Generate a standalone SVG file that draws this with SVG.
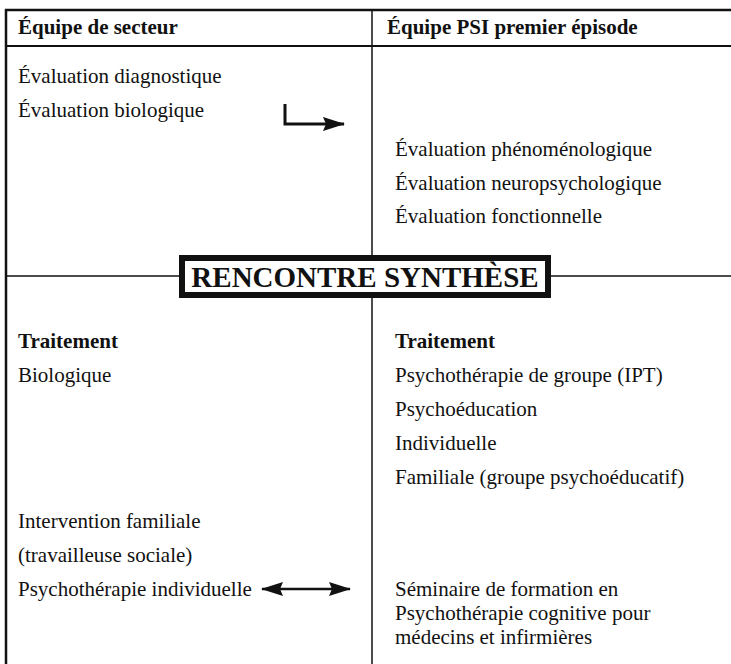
<svg xmlns="http://www.w3.org/2000/svg" width="731" height="664" viewBox="0 0 731 664">
<defs>
<style>
text{font-family:"Liberation Serif","Times New Roman",serif;font-size:21px;fill:#111}
.b{font-weight:bold}
.t{font-weight:bold;font-size:29px}
.ln{stroke:#111;fill:none}
</style>
<marker id="ah" viewBox="0 0 22 16" refX="21" refY="8" markerWidth="22" markerHeight="16" markerUnits="userSpaceOnUse" orient="auto-start-reverse"><path d="M0,1 L22,8 L0,15 L3,8 Z" fill="#111"/></marker>
</defs>
<rect width="731" height="664" fill="#fff"/>
<g id="grid">
<line class="ln" x1="5" y1="10" x2="731" y2="10" stroke-width="2.5"/>
<line class="ln" x1="5" y1="46" x2="731" y2="46" stroke-width="2"/>
<line class="ln" x1="6" y1="9" x2="6" y2="664" stroke-width="2.5"/>
<line class="ln" x1="372" y1="10" x2="372" y2="256" stroke-width="1.5"/>
<line class="ln" x1="372" y1="297" x2="372" y2="664" stroke-width="1.5"/>
<line class="ln" x1="5" y1="276" x2="180" y2="276" stroke-width="1.5"/>
<line class="ln" x1="550" y1="276" x2="731" y2="276" stroke-width="1.5"/>
</g>
<g id="headers">
<text class="b" x="18" y="34">Équipe de secteur</text>
<text class="b" x="387" y="34">Équipe PSI premier épisode</text>
</g>
<g id="eval-secteur">
<text x="18" y="83">Évaluation diagnostique</text>
<text x="18" y="117">Évaluation biologique</text>
</g>
<g id="eval-psi">
<text x="395" y="156">Évaluation phénoménologique</text>
<text x="395" y="190">Évaluation neuropsychologique</text>
<text x="395" y="223">Évaluation fonctionnelle</text>
</g>
<g id="synthese">
<rect x="182" y="258" width="366" height="37" fill="#fff" stroke="#111" stroke-width="6"/>
<text class="t" x="365" y="287" text-anchor="middle">RENCONTRE SYNTHÈSE</text>
</g>
<g id="traitement-secteur">
<text class="b" x="18" y="348">Traitement</text>
<text x="18" y="382">Biologique</text>
<text x="18" y="528">Intervention familiale</text>
<text x="18" y="562">(travailleuse sociale)</text>
<text x="18" y="596">Psychothérapie individuelle</text>
</g>
<g id="traitement-psi">
<text class="b" x="395" y="348">Traitement</text>
<text x="395" y="382">Psychothérapie de groupe (IPT)</text>
<text x="395" y="416">Psychoéducation</text>
<text x="395" y="450">Individuelle</text>
<text x="395" y="484">Familiale (groupe psychoéducatif)</text>
<text x="395" y="596">Séminaire de formation en</text>
<text x="395" y="620">Psychothérapie cognitive pour</text>
<text x="395" y="644">médecins et infirmières</text>
</g>
<g id="connectors">
<path class="ln" d="M285,104 V124 H344" stroke-width="3" marker-end="url(#ah)"/>
<path class="ln" d="M262,589 H350" stroke-width="2.5" marker-start="url(#ah)" marker-end="url(#ah)"/>
</g>
</svg>
